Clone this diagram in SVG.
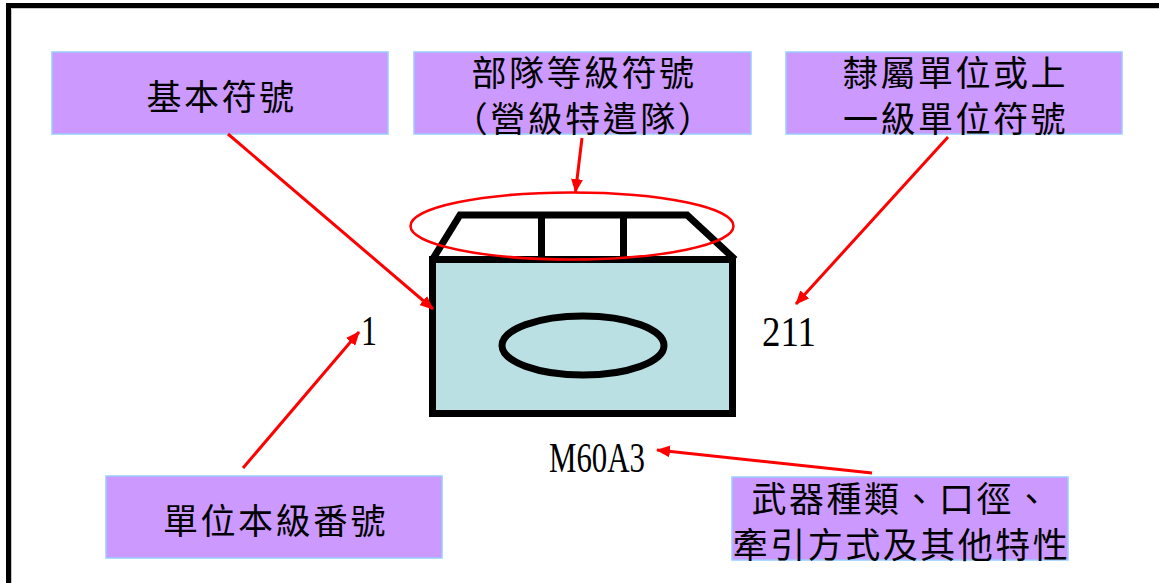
<svg xmlns="http://www.w3.org/2000/svg" width="1159" height="583" viewBox="0 0 1159 583">
<style>
.box{fill:#CC99FF;stroke:#99CCFF;stroke-width:1.5}
.cjk{font-family:"Noto Sans CJK TC","Noto Sans CJK SC",sans-serif;font-size:35px;fill:#000;text-anchor:middle;letter-spacing:2.5px}
.num{font-family:"Liberation Serif",serif;font-size:42px;fill:#000}
.arrow{stroke:#FF0000;stroke-width:3;fill:none;marker-end:url(#ah)}
.sym{stroke:#000;stroke-width:7}
</style>
<defs>
<marker id="ah" markerUnits="userSpaceOnUse" markerWidth="14" markerHeight="12" refX="13" refY="6" orient="auto">
<path d="M0,0 L14,6 L0,12 Z" fill="#FF0000"/>
</marker>
</defs>
<rect x="0" y="0" width="1159" height="583" fill="#fff"/>
<rect x="8.5" y="5.5" width="1300" height="700" fill="none" stroke="#000" stroke-width="5"/>
<path d="M11.5,600 V8.5 H1200" fill="none" stroke="#c8c8c8" stroke-width="1"/>

<g id="node-basic">
<rect class="box" x="52" y="52" width="336" height="82"/>
<text class="cjk" x="221.5" y="110">基本符號</text>
</g>
<g id="node-echelon">
<rect class="box" x="414" y="52" width="337" height="82"/>
<text class="cjk" x="584" y="86">部隊等級符號</text>
<text class="cjk" x="584" y="132">（營級特遣隊）</text>
</g>
<g id="node-higher">
<rect class="box" x="786" y="52" width="336" height="82"/>
<text class="cjk" x="955.5" y="86">隸屬單位或上</text>
<text class="cjk" x="955.5" y="132">一級單位符號</text>
</g>
<g id="node-unit">
<rect class="box" x="106" y="476" width="336" height="82"/>
<text class="cjk" x="275.5" y="534">單位本級番號</text>
</g>
<g id="node-weapon">
<rect class="box" x="732" y="477" width="336" height="83"/>
<text class="cjk" x="901.5" y="512">武器種類、口徑、</text>
<text class="cjk" x="901.5" y="558">牽引方式及其他特性</text>
</g>

<g id="node-symbol">
<rect x="434.5" y="261.5" width="300" height="154" fill="#a8a8a8"/>
<rect x="432.5" y="259.5" width="300" height="154" style="fill:#BBE0E3" class="sym"/>
<path class="sym" style="fill:none" d="M432.5,259.5 L460,215 H687 L735,259.5"/>
<path class="sym" style="fill:none" d="M541.5,215 V259.5 M623.5,215 V259.5"/>
<ellipse class="sym" style="fill:none" cx="583" cy="345.5" rx="81" ry="29.5"/>
<ellipse cx="572" cy="226" rx="161.5" ry="33.5" fill="none" stroke="#FF0000" stroke-width="2.5"/>
</g>

<g id="node-labels">
<text class="num" x="361" y="345" textLength="16" lengthAdjust="spacingAndGlyphs">1</text>
<text class="num" x="762" y="346" textLength="54" lengthAdjust="spacingAndGlyphs">211</text>
<text class="num" x="549" y="472" textLength="96" lengthAdjust="spacingAndGlyphs">M60A3</text>
</g>

<g id="connectors">
<line class="arrow" x1="228" y1="134" x2="433" y2="309"/>
<line class="arrow" x1="582" y1="138" x2="575.5" y2="192"/>
<line class="arrow" x1="948" y1="137" x2="796" y2="304"/>
<line class="arrow" x1="243" y1="468" x2="359" y2="332"/>
<line class="arrow" x1="872" y1="473" x2="657" y2="450"/>
</g>
</svg>
